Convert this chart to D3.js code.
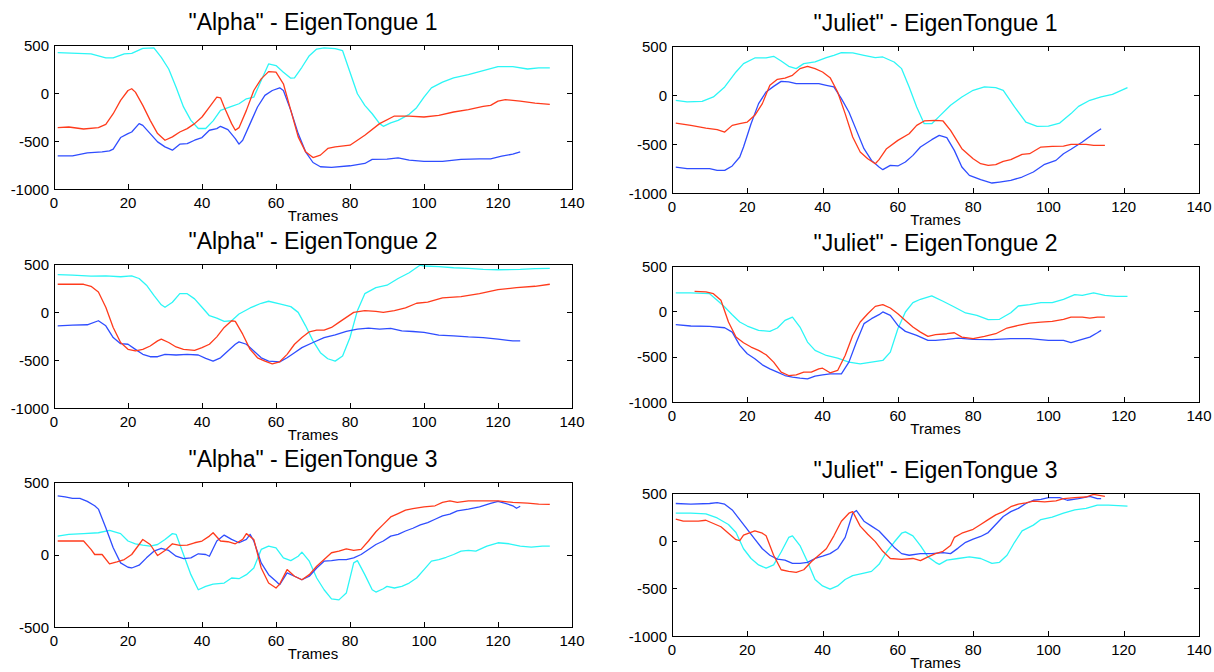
<!DOCTYPE html>
<html>
  <head>
    <meta charset="utf-8">
    <title>EigenTongues - Alpha / Juliet</title>
    <script src="https://d3js.org/d3.v7.min.js"></script>
    <style>
      body { margin: 0; background: #fff; }
      svg text { font-family: "Liberation Sans", Arial, sans-serif; fill: #000; }
      .tick-label { font-size: 15px; }
      .title { font-size: 23px; }
      .xlabel { font-size: 15px; }
    </style>
  </head>
  <body>
    <div id="chart"></div>
    <script>

      // tick values
      var xTicks = [0, 20, 40, 60, 80, 100, 120, 140];
      var yTicksFull = [500, 0, -500, -1000];
      var yTicksHalf = [500, 0, -500];

      var titles = ['"Alpha" - EigenTongue 1', '"Juliet" - EigenTongue 1',
                    '"Alpha" - EigenTongue 2', '"Juliet" - EigenTongue 2',
                    '"Alpha" - EigenTongue 3', '"Juliet" - EigenTongue 3'];

      // [frame, value]
      var alpha1Cyan = [[1,420],[10,407],[14,365],[16,365],[19,407],[21,413],[24,465],[27,470],[29,372],[31,250],[33,60],[35,-145],[37,-285],[39,-370],[41,-370],[43,-290],[45,-180],[48,-140],[50,-112],[52,-60],[54,-43],[56,130],[58,303],[60,286],[62,217],[64,154],[65,158],[67,268],[69,389],[71,458],[73,469],[76,462],[78,441],[80,217],[82,-8],[84,-129],[86,-216],[88,-319],[89,-347],[91,-312],[93,-285],[96,-222],[98,-153],[100,-43],[102,54],[105,113],[108,158],[112,192],[116,233],[120,275],[124,275],[128,250],[131,261],[134,261]];
      var alpha1Red = [[1,-361],[4,-354],[8,-375],[12,-361],[14,-326],[16,-216],[18,-77],[20,26],[21,44],[22,9],[24,-129],[26,-285],[28,-423],[30,-492],[32,-457],[34,-406],[36,-371],[38,-319],[40,-250],[42,-146],[44,-43],[45,-50],[46,-146],[48,-319],[49,-388],[50,-361],[52,-181],[54,26],[56,147],[58,223],[60,217],[62,96],[64,-181],[66,-457],[68,-613],[70,-672],[72,-647],[74,-578],[76,-561],[80,-544],[84,-440],[88,-319],[92,-240],[96,-240],[100,-250],[104,-233],[108,-198],[112,-174],[116,-140],[118,-129],[120,-84],[122,-70],[126,-84],[130,-105],[134,-119]];
      var alpha1Blue = [[1,-654],[5,-654],[9,-623],[13,-613],[15,-603],[16,-585],[18,-464],[20,-423],[21,-406],[23,-319],[24,-337],[26,-423],[28,-509],[30,-561],[32,-596],[34,-533],[36,-527],[38,-492],[40,-464],[42,-388],[44,-371],[45,-347],[47,-381],[49,-475],[50,-533],[51,-492],[53,-319],[55,-146],[57,-25],[59,26],[61,54],[62,26],[64,-181],[66,-423],[68,-613],[70,-724],[72,-768],[75,-775],[80,-758],[84,-734],[86,-692],[90,-689],[93,-675],[96,-699],[100,-713],[105,-713],[110,-692],[115,-686],[118,-686],[121,-658],[124,-637],[126,-613]];

      var juliet1Cyan = [[1,-54],[4,-71],[8,-65],[11,-20],[14,82],[17,235],[19,320],[22,378],[25,378],[27,395],[29,347],[31,293],[33,269],[35,320],[38,337],[41,381],[43,405],[45,432],[48,429],[51,405],[54,381],[56,388],[59,337],[61,269],[63,82],[65,-122],[67,-293],[69,-293],[71,-218],[74,-105],[77,-20],[80,48],[83,82],[86,75],[88,48],[91,-122],[94,-276],[97,-320],[100,-317],[103,-286],[106,-190],[108,-116],[111,-54],[114,-20],[117,7],[121,75]];
      var juliet1Red = [[1,-286],[5,-310],[9,-337],[12,-354],[14,-378],[16,-310],[18,-293],[20,-276],[22,-207],[24,-88],[26,99],[28,160],[30,173],[32,201],[34,269],[36,293],[38,269],[40,235],[42,177],[44,31],[46,-190],[48,-429],[50,-582],[52,-650],[54,-701],[55,-660],[57,-548],[60,-463],[63,-395],[65,-310],[67,-265],[70,-259],[72,-265],[74,-361],[77,-548],[80,-650],[82,-701],[84,-718],[86,-711],[88,-677],[90,-660],[93,-605],[95,-599],[98,-531],[101,-524],[104,-521],[106,-503],[110,-503],[112,-514],[115,-514]];
      var juliet1Blue = [[1,-735],[4,-752],[10,-752],[12,-769],[14,-769],[16,-724],[18,-633],[19,-531],[21,-293],[23,-88],[25,31],[27,88],[29,139],[31,133],[33,116],[36,116],[39,116],[41,99],[43,82],[45,-37],[47,-173],[49,-361],[51,-548],[53,-667],[55,-735],[56,-762],[58,-718],[60,-724],[62,-684],[64,-616],[66,-531],[69,-456],[71,-412],[73,-435],[75,-565],[77,-735],[79,-820],[82,-864],[85,-898],[87,-888],[90,-871],[93,-837],[96,-786],[99,-707],[102,-667],[104,-599],[106,-554],[109,-480],[112,-395],[114,-344]];

      var alpha2Cyan = [[1,390],[5,384],[10,374],[14,377],[18,367],[21,377],[23,349],[25,279],[27,173],[29,75],[30,49],[32,102],[34,191],[36,191],[38,137],[40,49],[42,-39],[44,-63],[46,-98],[48,-91],[50,-21],[53,42],[56,91],[58,112],[61,84],[64,56],[66,-4],[68,-144],[70,-301],[72,-424],[74,-487],[76,-512],[78,-459],[80,-266],[82,14],[84,191],[87,254],[90,279],[93,349],[96,409],[99,489],[100,479],[104,472],[108,461],[112,454],[116,444],[120,440],[126,444],[130,451],[134,454]];
      var alpha2Red = [[1,289],[8,289],[10,268],[12,208],[14,49],[16,-161],[18,-318],[20,-389],[22,-406],[24,-389],[26,-354],[28,-301],[29,-283],[31,-318],[33,-364],[35,-389],[38,-399],[40,-371],[42,-336],[44,-259],[46,-161],[48,-91],[49,-98],[51,-231],[53,-389],[55,-477],[57,-512],[59,-540],[61,-519],[63,-441],[65,-336],[67,-266],[69,-206],[71,-189],[73,-189],[75,-161],[77,-108],[79,-56],[81,-4],[84,14],[87,7],[89,-4],[92,14],[95,42],[98,91],[101,102],[105,147],[110,161],[115,191],[120,233],[125,254],[130,268],[134,289]];
      var alpha2Blue = [[1,-144],[5,-137],[9,-133],[12,-91],[14,-144],[16,-266],[18,-330],[20,-336],[22,-389],[24,-441],[26,-466],[28,-466],[30,-441],[33,-448],[36,-441],[39,-448],[41,-483],[43,-512],[45,-477],[47,-406],[49,-336],[50,-311],[52,-336],[54,-406],[56,-477],[58,-512],[61,-519],[63,-477],[65,-424],[67,-371],[70,-318],[73,-266],[76,-238],[79,-203],[82,-178],[85,-168],[88,-178],[91,-171],[94,-196],[97,-203],[100,-213],[104,-241],[108,-248],[112,-259],[116,-266],[120,-283],[124,-301],[126,-301]];

      var juliet2Cyan = [[1,203],[5,203],[10,195],[12,122],[14,48],[16,-37],[18,-118],[20,-162],[23,-210],[26,-221],[28,-184],[30,-100],[32,-63],[34,-173],[36,-339],[38,-431],[41,-487],[44,-516],[47,-560],[50,-579],[53,-560],[56,-542],[58,-450],[60,-192],[62,-7],[64,96],[66,133],[69,170],[72,111],[75,48],[78,-18],[81,-44],[84,-92],[87,-88],[90,-15],[92,59],[95,74],[98,96],[101,96],[104,133],[107,184],[109,177],[112,203],[115,177],[118,166],[121,166]];
      var juliet2Red = [[6,221],[9,214],[11,195],[13,122],[15,-118],[17,-284],[19,-346],[21,-394],[23,-431],[25,-479],[27,-560],[29,-671],[31,-708],[33,-700],[35,-671],[37,-671],[39,-634],[40,-627],[42,-678],[44,-652],[46,-487],[48,-266],[50,-118],[52,-26],[54,55],[56,74],[58,37],[60,-26],[62,-100],[64,-173],[66,-229],[68,-276],[70,-258],[73,-247],[75,-236],[77,-284],[80,-302],[83,-276],[86,-247],[89,-184],[92,-155],[95,-129],[98,-118],[101,-111],[104,-88],[106,-63],[109,-63],[111,-74],[113,-63],[115,-63]];
      var juliet2Blue = [[1,-147],[5,-162],[10,-166],[14,-181],[16,-229],[18,-376],[20,-468],[22,-523],[24,-590],[26,-634],[28,-671],[30,-708],[32,-726],[34,-737],[36,-745],[38,-715],[40,-700],[42,-689],[45,-689],[47,-560],[49,-339],[51,-136],[53,-81],[55,-37],[56,-7],[58,-44],[60,-155],[62,-221],[65,-266],[68,-321],[70,-321],[73,-310],[76,-295],[80,-310],[85,-313],[90,-302],[95,-302],[100,-321],[104,-321],[106,-346],[108,-321],[111,-284],[113,-236],[114,-210]];

      var alpha3Cyan = [[1,127],[4,139],[8,144],[12,150],[15,167],[18,144],[20,93],[22,74],[24,65],[26,58],[28,69],[30,104],[32,144],[33,139],[35,0],[37,-139],[39,-243],[41,-220],[43,-204],[46,-197],[48,-162],[50,-167],[52,-139],[54,-93],[56,35],[58,58],[60,46],[62,-23],[64,-42],[66,-12],[67,16],[69,-46],[71,-162],[73,-243],[75,-306],[77,-313],[79,-266],[81,-58],[82,-42],[84,-139],[86,-243],[87,-259],[89,-236],[90,-220],[92,-231],[94,-220],[96,-197],[98,-162],[100,-104],[102,-46],[104,-35],[106,-19],[108,0],[110,23],[112,28],[114,23],[117,58],[120,81],[123,74],[126,58],[129,51],[132,58],[134,58]];
      var alpha3Red = [[1,93],[8,93],[10,35],[11,0],[13,0],[15,-65],[17,-51],[19,-35],[21,0],[23,69],[24,104],[26,69],[28,-7],[30,28],[32,74],[34,63],[36,65],[38,81],[40,93],[42,127],[43,150],[45,93],[47,88],[49,74],[51,104],[52,144],[54,104],[56,-93],[58,-197],[60,-231],[61,-204],[63,-104],[65,-150],[67,-174],[69,-139],[71,-81],[73,-35],[75,12],[77,23],[79,39],[81,28],[83,35],[85,93],[87,157],[89,208],[91,259],[93,282],[95,306],[97,317],[100,329],[103,336],[105,359],[107,370],[109,359],[112,370],[116,370],[120,370],[124,359],[128,354],[131,347],[134,345]];
      var alpha3Blue = [[1,405],[3,398],[5,387],[7,387],[9,366],[11,336],[12,313],[14,185],[16,46],[18,-58],[20,-88],[21,-93],[23,-74],[25,-23],[27,23],[29,42],[31,28],[33,-12],[35,-28],[37,-23],[39,5],[41,0],[42,-12],[44,93],[46,134],[48,104],[50,81],[52,104],[53,139],[54,93],[56,-58],[58,-139],[60,-185],[61,-208],[63,-127],[65,-150],[67,-174],[69,-150],[71,-93],[73,-46],[75,-42],[77,-35],[79,-35],[81,-23],[83,0],[85,35],[87,69],[89,93],[91,127],[93,139],[95,162],[97,181],[99,204],[101,220],[103,243],[105,266],[107,278],[109,301],[112,313],[115,329],[118,352],[120,366],[122,352],[124,336],[125,319],[126,333]];

      var juliet3Cyan = [[1,288],[5,288],[9,282],[12,238],[15,170],[17,85],[19,-85],[21,-187],[23,-254],[25,-288],[27,-254],[29,-119],[31,34],[32,51],[34,-51],[36,-221],[38,-407],[40,-475],[42,-509],[44,-475],[46,-407],[48,-367],[51,-340],[53,-322],[55,-248],[57,-119],[59,-17],[61,78],[62,92],[64,51],[66,-51],[68,-170],[70,-227],[71,-248],[73,-204],[76,-187],[79,-170],[82,-187],[85,-238],[87,-227],[89,-153],[91,-17],[93,102],[96,163],[98,221],[101,248],[104,288],[107,322],[110,339],[113,373],[116,373],[121,363]];
      var juliet3Red = [[1,227],[3,204],[7,204],[9,214],[11,180],[13,146],[15,78],[17,10],[18,0],[19,58],[22,102],[24,78],[25,51],[27,-153],[29,-305],[31,-322],[33,-333],[35,-305],[37,-221],[39,-153],[41,-85],[43,51],[45,204],[47,288],[48,305],[50,153],[52,68],[54,-10],[56,-112],[58,-187],[61,-197],[64,-187],[66,-210],[68,-170],[70,-136],[72,-112],[74,-51],[75,34],[77,78],[80,119],[82,170],[84,221],[86,271],[88,305],[90,356],[92,383],[94,397],[96,414],[99,407],[102,417],[104,441],[107,451],[110,458],[112,485],[115,465]];
      var juliet3Blue = [[1,390],[5,383],[10,390],[12,400],[14,383],[16,322],[18,221],[20,119],[22,17],[24,-85],[26,-153],[28,-193],[30,-204],[32,-238],[34,-238],[36,-227],[38,-187],[40,-163],[42,-136],[44,-85],[46,34],[48,288],[49,316],[51,204],[53,153],[55,102],[57,17],[59,-68],[61,-136],[63,-153],[66,-136],[69,-136],[72,-126],[74,-136],[76,-78],[78,-17],[80,17],[82,44],[84,85],[86,170],[88,254],[90,305],[92,339],[94,390],[96,424],[98,434],[100,451],[103,451],[105,424],[108,441],[111,465],[113,441],[114,441]];

      var colors = { cyan: "#2cf6f6", red: "#ff3b1c", blue: "#2f4dff" };

      // panel boxes [left, top, right, bottom]
      var panels = [
        { box: [54, 45, 572, 189],   yTicks: yTicksFull, series: [alpha1Cyan, alpha1Blue, alpha1Red] },
        { box: [672, 46, 1199, 193], yTicks: yTicksFull, series: [juliet1Cyan, juliet1Blue, juliet1Red] },
        { box: [54, 264, 572, 408],  yTicks: yTicksFull, series: [alpha2Cyan, alpha2Blue, alpha2Red] },
        { box: [672, 266, 1199, 402], yTicks: yTicksFull, series: [juliet2Cyan, juliet2Blue, juliet2Red] },
        { box: [54, 482, 572, 627],  yTicks: yTicksHalf, series: [alpha3Cyan, alpha3Blue, alpha3Red] },
        { box: [672, 493, 1199, 636], yTicks: yTicksFull, series: [juliet3Cyan, juliet3Blue, juliet3Red] }
      ];
      var seriesColors = [colors.cyan, colors.blue, colors.red];

      var svg = d3.select("#chart").append("svg")
        .attr("width", 1214)
        .attr("height", 672);

      svg.append("rect").attr("width", 1214).attr("height", 672).attr("fill", "#fff");

      var tickLen = 5;

      panels.forEach(function(p, i) {
        var l = p.box[0], t = p.box[1], r = p.box[2], b = p.box[3];

        var x = d3.scaleLinear().domain([0, 140]).range([l, r]);
        var y = d3.scaleLinear().domain(d3.extent(p.yTicks)).range([b, t]);

        var g = svg.append("g");

        // curves
        var line = d3.line()
          .x(function(d) { return x(d[0]); })
          .y(function(d) { return y(d[1]); });

        p.series.forEach(function(s, k) {
          g.append("path")
            .datum(s)
            .attr("fill", "none")
            .attr("stroke", seriesColors[k])
            .attr("stroke-width", 1.3)
            .attr("stroke-linejoin", "round")
            .attr("d", line);
        });

        // box
        g.append("rect")
          .attr("x", l + 0.5).attr("y", t + 0.5)
          .attr("width", r - l).attr("height", b - t)
          .attr("fill", "none")
          .attr("stroke", "#000")
          .attr("stroke-width", 1);

        // x ticks (bottom and top, pointing in)
        xTicks.forEach(function(v) {
          var px = Math.round(x(v)) + 0.5;
          g.append("line").attr("x1", px).attr("x2", px)
            .attr("y1", b).attr("y2", b - tickLen).attr("stroke", "#000");
          g.append("line").attr("x1", px).attr("x2", px)
            .attr("y1", t).attr("y2", t + tickLen).attr("stroke", "#000");
          g.append("text")
            .attr("class", "tick-label")
            .attr("x", x(v))
            .attr("y", b + 13)
            .attr("text-anchor", "middle")
            .attr("dominant-baseline", "central")
            .text(v);
        });

        // y ticks (left and right, pointing in)
        p.yTicks.forEach(function(v) {
          var py = Math.round(y(v)) + 0.5;
          g.append("line").attr("x1", l).attr("x2", l + tickLen)
            .attr("y1", py).attr("y2", py).attr("stroke", "#000");
          g.append("line").attr("x1", r).attr("x2", r - tickLen)
            .attr("y1", py).attr("y2", py).attr("stroke", "#000");
          g.append("text")
            .attr("class", "tick-label")
            .attr("x", l - 5)
            .attr("y", y(v))
            .attr("text-anchor", "end")
            .attr("dominant-baseline", "central")
            .text(v);
        });

        // title and x label
        g.append("text")
          .attr("class", "title")
          .attr("x", (l + r) / 2)
          .attr("y", t - 23)
          .attr("text-anchor", "middle")
          .attr("dominant-baseline", "central")
          .text(titles[i]);

        g.append("text")
          .attr("class", "xlabel")
          .attr("x", (l + r) / 2)
          .attr("y", b + 26)
          .attr("text-anchor", "middle")
          .attr("dominant-baseline", "central")
          .text("Trames");
      });

    </script>
  </body>
</html>
